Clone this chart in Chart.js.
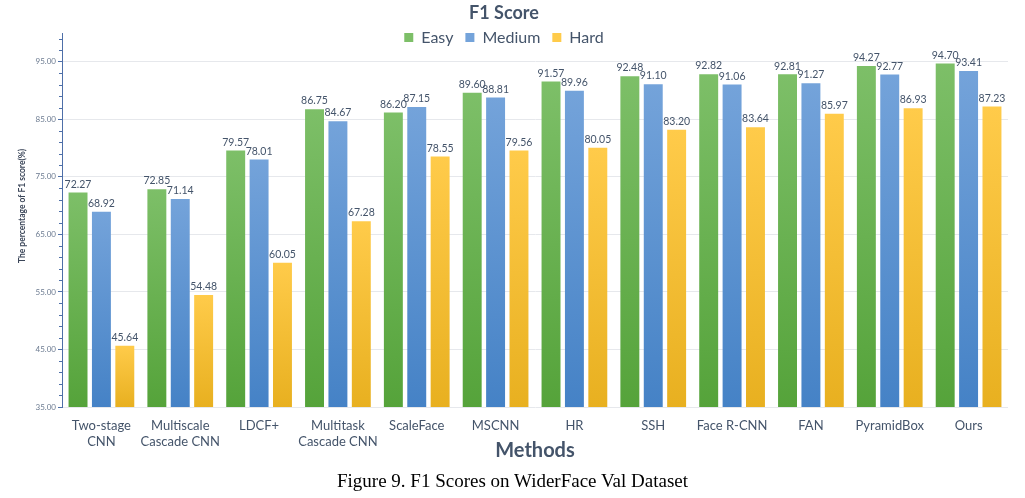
<!DOCTYPE html>
<html>
<head>
<meta charset="utf-8">
<script src="https://cdn.jsdelivr.net/npm/chart.js@4/dist/chart.umd.min.js"></script>
<style>
html,body{margin:0;padding:0;background:#fff;width:1025px;height:498px;overflow:hidden;}
#wrap{position:absolute;left:0;top:0;width:1025px;height:470px;}
#cap{position:absolute;left:0;top:468px;width:1025px;text-align:center;font-family:"Liberation Serif","Times New Roman",serif;font-size:19px;line-height:26px;color:#000;}
</style>
</head>
<body>
<div id="wrap"><canvas id="c" width="1025" height="470"></canvas></div>
<div id="cap">Figure 9. F1 Scores on WiderFace Val Dataset</div>
<script>
const methods = [["Two-stage","CNN"],["Multiscale","Cascade CNN"],"LDCF+",["Multitask","Cascade CNN"],"ScaleFace","MSCNN","HR","SSH","Face R-CNN","FAN","PyramidBox","Ours"];
const easy   = [72.27,72.85,79.57,86.75,86.20,89.60,91.57,92.48,92.82,92.81,94.27,94.70];
const medium = [68.92,71.14,78.01,84.67,87.15,88.81,89.96,91.10,91.06,91.27,92.77,93.41];
const hard   = [45.64,54.48,60.05,67.28,78.55,79.56,80.05,83.20,83.64,85.97,86.93,87.23];
const yTicks = [35,45,55,65,75,85,95];
const yTitle = 'The percentage of F1 score(%)';

const FONT = "Lato";
const SLATE = "#44546A";
const AXIS = "#4E6FA8";

function grad(top, bottom, solid){
  return function(ctx){
    const chart = ctx.chart;
    if(!chart.chartArea || ctx.type !== 'data') return solid;
    const y = chart.scales.y;
    const v = ctx.raw;
    const yt = y.getPixelForValue(v), yb = y.getPixelForValue(y.min);
    if(!isFinite(yt) || !isFinite(yb) || yb - yt < 1) return solid;
    const g = chart.ctx.createLinearGradient(0, yt, 0, yb);
    g.addColorStop(0, top); g.addColorStop(1, bottom);
    return g;
  };
}

const legendHack = {
  id:'legendHack',
  beforeLayout(chart){
    const lg = chart.legend;
    if(lg && !lg._hacked){
      const orig = lg.fit;
      lg.fit = function(){ orig.call(this); this.height = 15.4; };
      lg._hacked = true;
    }
  },
  afterLayout(chart){
    const lg = chart.legend;
    if(lg){ lg.bottom = lg.top + 40; }
  }
};

const labelsPlugin = {
  id:'valLabels',
  afterDatasetsDraw(chart){
    const c = chart.ctx;
    c.save();
    c.font = "10.5px " + FONT;
    c.fillStyle = SLATE;
    c.textAlign = 'center';
    c.textBaseline = 'bottom';
    chart.data.datasets.forEach((ds, i) => {
      const meta = chart.getDatasetMeta(i);
      meta.data.forEach((bar, j) => {
        c.fillText(ds.data[j].toFixed(2), bar.x, bar.y - 3);
      });
    });
    c.restore();
  }
};

const axisExtras = {
  id:'axisExtras',
  afterDraw(chart){
    const y = chart.scales.y, c = chart.ctx;
    const x0 = chart.chartArea.left;
    c.save();
    c.strokeStyle = AXIS; c.lineWidth = 1;
    for(let v = 37; v < 100; v += 2){
      if((v - 35) % 10 === 0) continue;
      const py = Math.round(y.getPixelForValue(v)) + 0.5;
      c.beginPath(); c.moveTo(x0 - 3, py); c.lineTo(x0, py); c.stroke();
    }
    c.translate(22, 206);
    c.rotate(-Math.PI / 2);
    c.font = "bold 8.5px " + FONT;
    c.fillStyle = '#3A4558';
    c.textAlign = 'center';
    c.textBaseline = 'middle';
    c.fillText(yTitle, 0, 0);
    c.restore();
  }
};

new Chart(document.getElementById('c'), {
  type:'bar',
  data:{
    labels: methods,
    datasets:[
      {label:'Easy', data:easy, backgroundColor:grad('#7DBF68','#55A33A','#6AB150')},
      {label:'Medium', data:medium, backgroundColor:grad('#74A3DA','#4582C6','#5B93D0')},
      {label:'Hard', data:hard, backgroundColor:grad('#FFCB4A','#E8B020','#F6BE35')}
    ]
  },
  options:{
    responsive:false,
    animation:false,
    devicePixelRatio:1,
    layout:{padding:{left:0,right:17,top:0,bottom:0}},
    datasets:{bar:{categoryPercentage:0.89, barPercentage:0.81}},
    plugins:{
      title:{display:true, text:'F1 Score', color:SLATE, font:{family:FONT, size:18, weight:'bold'}, padding:{top:2,bottom:-6}},
      legend:{display:true, position:'top', labels:{color:SLATE, font:{family:FONT, size:16}, boxWidth:9, boxHeight:9, padding:12}},
      tooltip:{enabled:false}
    },
    scales:{
      x:{
        grid:{display:false},
        border:{display:false},
        ticks:{color:SLATE, font:{family:FONT, size:13}, padding:3, maxRotation:0, autoSkip:false},
        title:{display:true, text:'Methods', color:SLATE, font:{family:FONT, size:20, weight:'bold'}, padding:{top:0,bottom:7}},
        afterFit(s){ s.height = 63; }
      },
      y:{
        min:35, max:100,
        ticks:{stepSize:10, color:'#6B7A90', font:{family:FONT, size:8}, padding:2, callback:(v)=>Number(v).toFixed(2)},
        afterBuildTicks(s){ s.ticks = yTicks.map(v => ({value:v})); },
        grid:{color:'#E6E8EC', tickColor:AXIS, tickLength:4},
        border:{display:true, color:AXIS, width:1},
        title:{display:false},
        afterFit(s){ s.width = 62; }
      }
    }
  },
  plugins:[legendHack, labelsPlugin, axisExtras]
});
</script>
</body>
</html>
